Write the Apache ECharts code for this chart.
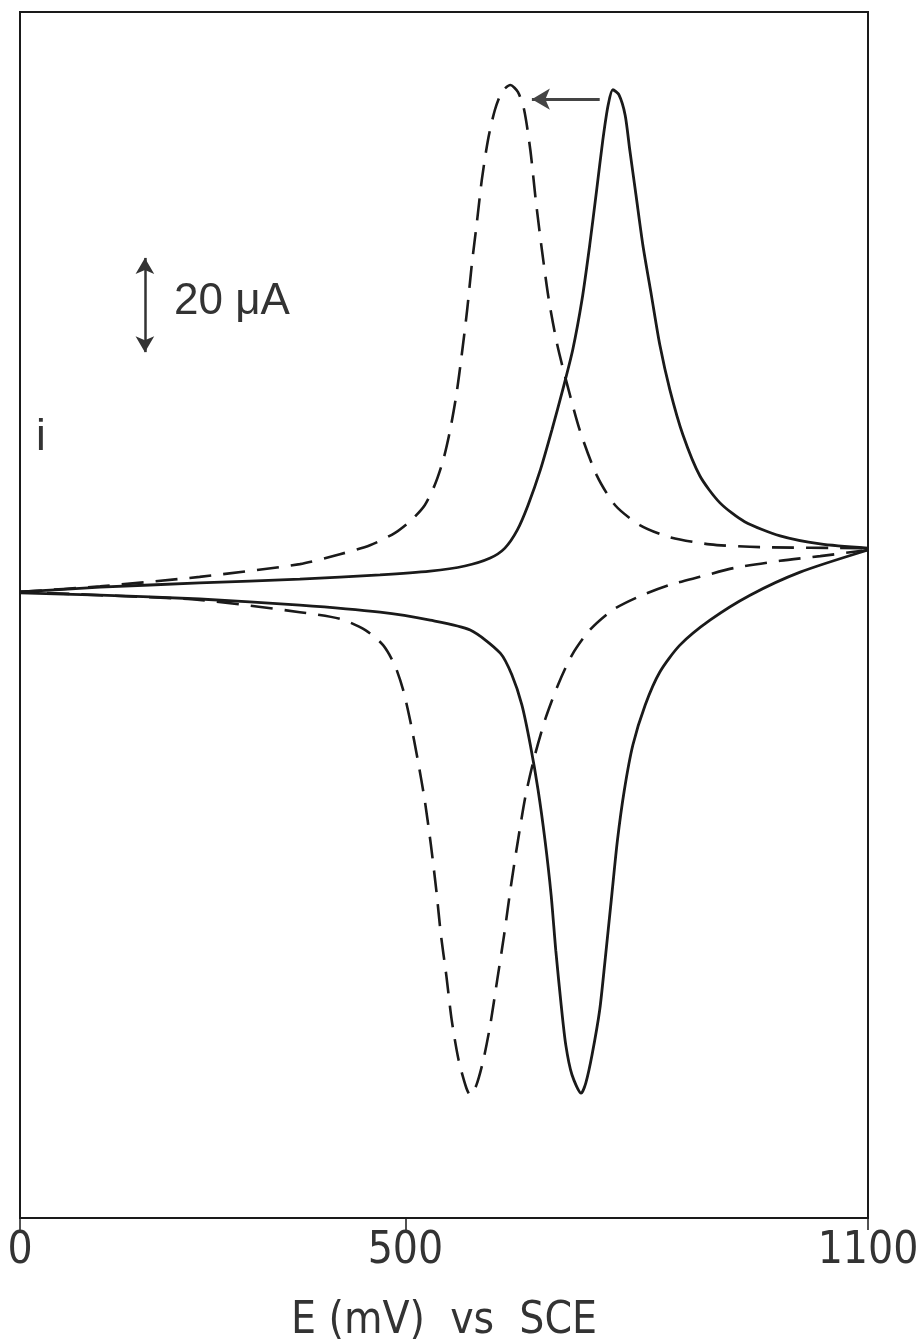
<!DOCTYPE html>
<html>
<head>
<meta charset="utf-8">
<script src="https://cdn.jsdelivr.net/npm/echarts@6/dist/echarts.min.js"></script>
<style>
html, body { margin: 0; padding: 0; background: #fff; }
#main { width: 916px; height: 1344px; }
</style>
</head>
<body>
<div id="main"></div>
<script>
// potential E (mV), current i (uA)
var xTicks = [0, 500, 1100];

// solid curve, forward (anodic) and reverse (cathodic) sweeps
var solidFwdE = [0, 104, 233, 363, 467, 532, 577, 610, 629, 645, 659, 675, 690, 704, 717, 729, 739, 748, 756, 763, 769, 777, 785, 791, 799, 808, 819, 830, 843, 860, 882, 908, 940, 986, 1038, 1100];
var solidFwdI = [-0.1, 0.9, 1.8, 2.6, 3.5, 4.3, 5.4, 7.1, 9.2, 13.0, 18.3, 25.8, 34.3, 42.8, 51.3, 61.9, 73.5, 85.2, 95.8, 103.3, 106.5, 105.4, 101.1, 93.7, 84.2, 73.5, 62.9, 52.3, 42.8, 33.2, 24.5, 18.8, 14.8, 11.8, 10.1, 9.2];
var solidRevE = [1100, 1012, 947, 895, 856, 830, 811, 795, 784, 775, 767, 759, 752, 742, 734, 728, 716, 708, 702, 695, 689, 681, 672, 662, 651, 638, 623, 584, 532, 467, 363, 233, 104, 0];
var solidRevI = [8.8, 4.1, -0.8, -6.1, -11.4, -17.1, -24.1, -32.6, -42.1, -52.8, -65.5, -78.2, -88.8, -98.4, -104.3, -106.5, -102.6, -96.3, -87.8, -76.2, -64.5, -52.8, -42.1, -32.6, -24.1, -17.7, -13.1, -8.2, -6.1, -4.4, -2.9, -1.6, -0.8, -0.3];

// dashed curve, forward and reverse sweeps
var dashFwdE = [0, 104, 233, 363, 415, 454, 486, 508, 525, 538, 549, 558, 566, 573, 580, 586, 593, 599, 607, 616, 625, 636, 646, 654, 662, 669, 677, 686, 697, 710, 726, 748, 772, 804, 843, 895, 960, 1100];
var dashFwdI = [-0.1, 1.1, 3.1, 5.8, 7.9, 9.8, 12.4, 15.2, 18.3, 22.6, 27.9, 34.3, 41.7, 50.2, 59.7, 69.3, 78.8, 87.3, 95.8, 102.2, 106.0, 107.5, 106.0, 102.2, 93.7, 83.1, 72.5, 61.9, 52.3, 43.8, 34.3, 24.7, 18.3, 14.1, 11.5, 10.0, 9.4, 9.2];
var dashRevE = [1100, 1038, 986, 927, 882, 843, 804, 769, 739, 716, 698, 682, 668, 656, 646, 637, 628, 619, 610, 601, 592, 584, 579, 569, 560, 553, 546, 540, 533, 525, 516, 506, 497, 486, 471, 448, 415, 363, 233, 104, 0];
var dashRevI = [8.8, 7.5, 6.5, 5.0, 3.1, 1.4, -1.0, -3.9, -8.2, -13.5, -19.8, -26.8, -34.7, -43.2, -52.8, -62.3, -72.9, -82.5, -92.0, -99.5, -104.8, -106.9, -105.4, -99.5, -91.0, -81.5, -72.9, -63.4, -53.8, -44.3, -35.8, -27.3, -20.9, -15.6, -11.4, -8.2, -5.8, -4.4, -1.8, -0.8, -0.1];

// annotations: shift arrow and 20 uA scale bar
var shiftArrow = [[752, 104.5], [664, 104.5]];
var scaleBar = [[162, 50.8], [162, 70.8]];

function pairs(xs, ys) {
    var out = [];
    for (var i = 0; i < xs.length; i++) {
        out.push([xs[i], ys[i]]);
    }
    return out;
}

var ink = '#1a1a1a';
var textInk = '#333';
var font = '"Liberation Sans Narrow", "DejaVu Sans Condensed", "DejaVu Sans", sans-serif';

var myChart = echarts.init(document.getElementById('main'));

var solidStyle = { color: ink, width: 2.8, type: 'solid' };
var dashStyle = { color: ink, width: 2.6, type: [22, 12] };

myChart.setOption({
    animation: false,
    backgroundColor: '#fff',
    grid: {
        left: 20, right: 48, top: 12, bottom: 126,
        outerBoundsMode: 'none',
        show: true, borderColor: ink, borderWidth: 2
    },
    xAxis: {
        type: 'value',
        min: 0, max: 1100,
        axisLine: { show: true, onZero: false, lineStyle: { color: ink, width: 2 } },
        axisTick: { show: true, inside: false, length: 12, customValues: xTicks, lineStyle: { color: ink, width: 1.5 } },
        axisLabel: {
            customValues: xTicks, margin: 12,
            formatter: function (v) { return String(v); },
            fontSize: 44, color: textInk, fontFamily: font
        },
        splitLine: { show: false },
        name: 'E (mV)  vs  SCE',
        nameLocation: 'middle',
        nameGap: 82,
        nameTextStyle: { fontSize: 44, color: textInk, fontFamily: font }
    },
    yAxis: {
        type: 'value',
        min: -133, max: 123,
        axisLine: { show: true, lineStyle: { color: ink, width: 2 } },
        axisTick: { show: false },
        axisLabel: { show: false },
        splitLine: { show: false }
    },
    graphic: [
        { type: 'text', left: 174, top: 280, style: { text: '20 \u03bcA', fontSize: 44, fill: textInk, font: '44px ' + font } },
        { type: 'text', left: 36, top: 416, style: { text: 'i', fontSize: 44, fill: textInk, font: '44px ' + font } }
    ],
    series: [
        {
            name: 'solid forward', type: 'line', showSymbol: false, smooth: 0.25,
            data: pairs(solidFwdE, solidFwdI), lineStyle: solidStyle,
            markLine: {
                silent: true, symbol: ['none', 'arrow'], symbolSize: [16, 18],
                label: { show: false },
                lineStyle: { color: '#444', width: 3, type: 'solid' },
                data: [[{ coord: shiftArrow[0] }, { coord: shiftArrow[1] }]]
            }
        },
        {
            name: 'solid reverse', type: 'line', showSymbol: false, smooth: 0.25,
            data: pairs(solidRevE, solidRevI), lineStyle: solidStyle,
            markLine: {
                silent: true, symbol: ['arrow', 'arrow'], symbolSize: [14, 16],
                label: { show: false },
                lineStyle: { color: '#333', width: 2.5, type: 'solid' },
                data: [[{ coord: scaleBar[0] }, { coord: scaleBar[1] }]]
            }
        },
        {
            name: 'dashed forward', type: 'line', showSymbol: false, smooth: 0.25,
            data: pairs(dashFwdE, dashFwdI), lineStyle: dashStyle
        },
        {
            name: 'dashed reverse', type: 'line', showSymbol: false, smooth: 0.25,
            data: pairs(dashRevE, dashRevI), lineStyle: dashStyle
        }
    ]
});
</script>
</body>
</html>
